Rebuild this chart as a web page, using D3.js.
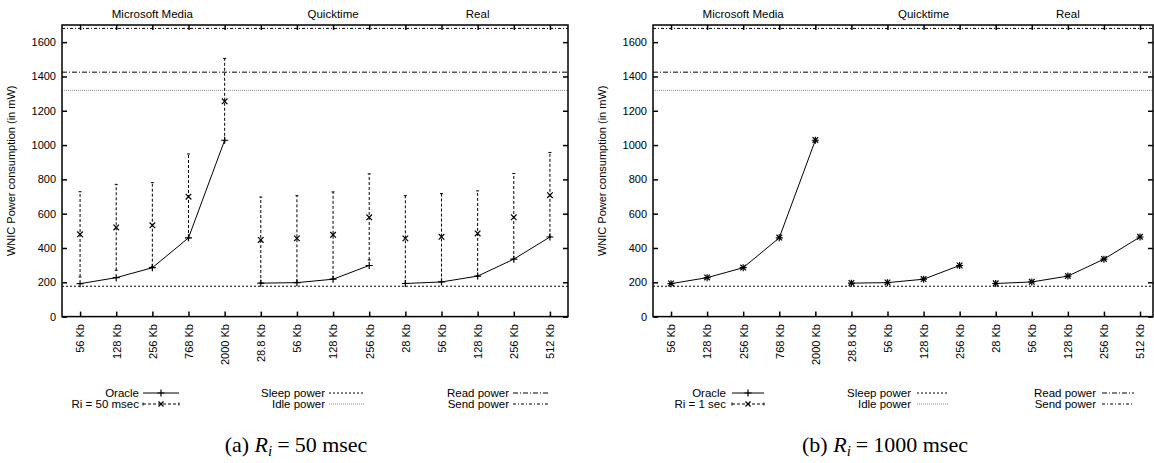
<!DOCTYPE html>
<html>
<head>
<meta charset="utf-8">
<script src="https://cdn.jsdelivr.net/npm/d3@7"></script>
<style>
  body { margin: 0; background: #fff; }
  svg { display: block; }
  text { font-family: "Liberation Sans", Arial, sans-serif; fill: #000; }
</style>
</head>
<body>
<svg width="1154" height="463"></svg>
<script>
// categories on the x axis (stream bit rates), three player groups
let categories = ["56 Kb", "128 Kb", "256 Kb", "768 Kb", "2000 Kb",
  "28.8 Kb", "56 Kb", "128 Kb", "256 Kb",
  "28 Kb", "56 Kb", "128 Kb", "256 Kb", "512 Kb"];
let groupOf = [0, 0, 0, 0, 0, 1, 1, 1, 1, 2, 2, 2, 2, 2];
let groupNames = ["Microsoft Media", "Quicktime", "Real"];
let groupLabelAt = [2, 7, 11];
let yTicks = [0, 200, 400, 600, 800, 1000, 1200, 1400, 1600];

// oracle power (mW)
let oracle = [192, 227, 285, 459, 1028, 195, 198, 218, 298, 193, 202, 236, 335, 464];

// Ri = 50 msec : mean, low and high of error bar
let mean50 = [480, 520, 532, 699, 1255, 447, 456, 477, 579, 456, 465, 485, 579, 708];
let low50 = [231, 270, 291, 458, 1025, 196, 200, 220, 330, 194, 204, 237, 336, 465];
let high50 = [728, 771, 781, 948, 1505, 697, 705, 727, 832, 705, 717, 733, 834, 957];

// Ri = 1 sec
let mean1s = [193, 228, 286, 461, 1030, 196, 199, 219, 298, 194, 203, 237, 336, 465];
let low1s = [190, 225, 283, 457, 1025, 194, 197, 216, 295, 192, 200, 234, 332, 461];
let high1s = [196, 231, 289, 465, 1034, 198, 201, 222, 301, 196, 206, 240, 339, 468];

// reference power levels (mW)
let sleepPower = 177;
let idlePower = 1319;
let readPower = 1425;
let sendPower = 1680;

let lineStyles = {
  sleep: { dash: "2,2", color: "#000" },
  idle: { dash: "1,1", color: "#8a8a8a" },
  read: { dash: "5,2,1,2", color: "#000" },
  send: { dash: "3,2,1,2", color: "#000" }
};

let svg = d3.select("svg");

let drawPlus = function(g, cx, cy, r) {
  g.append("path")
    .attr("d", `M${cx - r},${cy}H${cx + r}M${cx},${cy - r}V${cy + r}`)
    .attr("stroke", "#000").attr("stroke-width", 1.2).attr("fill", "none");
};
let drawCross = function(g, cx, cy, r) {
  g.append("path")
    .attr("d", `M${cx - r},${cy - r}L${cx + r},${cy + r}M${cx - r},${cy + r}L${cx + r},${cy - r}`)
    .attr("stroke", "#000").attr("stroke-width", 1.2).attr("fill", "none");
};

let drawChart = function(opt) {
  let g = svg.append("g");
  let x = d3.scaleLinear().domain(opt.xDomain).range([opt.left, opt.right]);
  let y = d3.scaleLinear().domain([0, 1700]).range([316.6, 25]);
  let idx = d3.range(categories.length);

  // reference power lines
  [["send", sendPower], ["read", readPower], ["idle", idlePower], ["sleep", sleepPower]].forEach(function(p) {
    g.append("line")
      .attr("x1", opt.left).attr("x2", opt.right)
      .attr("y1", y(p[1])).attr("y2", y(p[1]))
      .attr("stroke", lineStyles[p[0]].color)
      .attr("stroke-width", 1)
      .attr("stroke-dasharray", lineStyles[p[0]].dash);
  });

  // error bars for the Ri series
  let bars = g.append("g");
  idx.forEach(function(i) {
    let cx = x(i);
    bars.append("line")
      .attr("x1", cx).attr("x2", cx)
      .attr("y1", y(opt.low[i])).attr("y2", y(opt.high[i]))
      .attr("stroke", "#000").attr("stroke-width", 1)
      .attr("stroke-dasharray", "3,2");
    [opt.low[i], opt.high[i]].forEach(function(v) {
      bars.append("line")
        .attr("x1", cx - 1.5).attr("x2", cx + 1.5)
        .attr("y1", y(v)).attr("y2", y(v))
        .attr("stroke", "#000").attr("stroke-width", 1);
    });
    drawCross(bars, cx, y(opt.mean[i]), 2.8);
  });

  // oracle line, broken between groups
  let line = d3.line()
    .x(function(d) { return x(d); })
    .y(function(d) { return y(oracle[d]); });
  d3.range(groupNames.length).forEach(function(k) {
    let pts = idx.filter(function(i) { return groupOf[i] == k; });
    g.append("path")
      .attr("d", line(pts))
      .attr("fill", "none").attr("stroke", "#000").attr("stroke-width", 1);
  });
  idx.forEach(function(i) { drawPlus(g, x(i), y(oracle[i]), 3.5); });

  // axes
  let left = g.append("g").attr("transform", `translate(${opt.left},0)`)
    .call(d3.axisLeft(y).tickValues(yTicks).tickSize(-5).tickSizeOuter(0).tickPadding(6)
      .tickFormat(d3.format("d")));
  let right = g.append("g").attr("transform", `translate(${opt.right},0)`)
    .call(d3.axisRight(y).tickValues(yTicks).tickSize(-5).tickSizeOuter(0).tickFormat(""));
  let bottom = g.append("g").attr("transform", `translate(0,${y(0)})`)
    .call(d3.axisBottom(x).tickValues(idx).tickSize(-5).tickSizeOuter(0)
      .tickFormat(function(d) { return categories[d]; }));
  let top = g.append("g").attr("transform", `translate(0,${y(1700)})`)
    .call(d3.axisTop(x).tickValues(idx).tickSize(-5).tickSizeOuter(0).tickFormat(""));
  [left, right, bottom, top].forEach(function(a) {
    a.select(".domain").remove();
    a.selectAll(".tick line").attr("stroke", "#000").attr("stroke-width", 1.5);
    a.selectAll("text").attr("font-size", 11).attr("font-family", "Liberation Sans, Arial, sans-serif");
  });
  bottom.selectAll(".tick text")
    .attr("transform", "rotate(-90)")
    .attr("text-anchor", "end")
    .attr("x", -7.5).attr("y", 0).attr("dy", "0.35em");

  // plot border
  g.append("rect")
    .attr("x", opt.left).attr("y", y(1700))
    .attr("width", opt.right - opt.left).attr("height", y(0) - y(1700))
    .attr("fill", "none").attr("stroke", "#000").attr("stroke-width", 1.5);

  // group names on top
  groupNames.forEach(function(name, k) {
    g.append("text")
      .attr("x", x(groupLabelAt[k])).attr("y", 18)
      .attr("text-anchor", "middle").attr("font-size", 11.5)
      .text(name);
  });

  // y label
  g.append("text")
    .attr("transform", `translate(${opt.left - 47},${(y(0) + y(1700)) / 2}) rotate(-90)`)
    .attr("text-anchor", "middle").attr("font-size", 11)
    .text("WNIC Power consumption (in mW)");

  // legend
  let rows = [393, 404];
  let cols = opt.legendCols;
  let sampleW = opt.sampleW;
  let legendItems = [
    [0, 0, "Oracle", "oracle"], [0, 1, opt.seriesName, "ri"],
    [1, 0, "Sleep power", "sleep"], [1, 1, "Idle power", "idle"],
    [2, 0, "Read power", "read"], [2, 1, "Send power", "send"]
  ];
  legendItems.forEach(function(it) {
    let tx = cols[it[0]], ty = rows[it[1]];
    g.append("text")
      .attr("x", tx).attr("y", ty).attr("dy", "0.35em")
      .attr("text-anchor", "end").attr("font-size", 11.5)
      .text(it[2]);
    let sx0 = tx + opt.sampleGap, sx1 = sx0 + sampleW;
    if (it[3] == "oracle") {
      g.append("line").attr("x1", sx0).attr("x2", sx1).attr("y1", ty).attr("y2", ty)
        .attr("stroke", "#000").attr("stroke-width", 1);
      drawPlus(g, (sx0 + sx1) / 2, ty, 3.5);
    } else if (it[3] == "ri") {
      g.append("line").attr("x1", sx0).attr("x2", sx1).attr("y1", ty).attr("y2", ty)
        .attr("stroke", "#000").attr("stroke-width", 1).attr("stroke-dasharray", "3,2");
      [sx0, sx1].forEach(function(ex) {
        g.append("line").attr("x1", ex).attr("x2", ex).attr("y1", ty - 1.5).attr("y2", ty + 1.5)
          .attr("stroke", "#000").attr("stroke-width", 1);
      });
      drawCross(g, (sx0 + sx1) / 2, ty, 2.5);
    } else {
      g.append("line").attr("x1", sx0).attr("x2", sx1).attr("y1", ty).attr("y2", ty)
        .attr("stroke", lineStyles[it[3]].color).attr("stroke-width", 1)
        .attr("stroke-dasharray", lineStyles[it[3]].dash);
    }
  });

  // caption
  let cap = g.append("text")
    .attr("x", opt.captionX).attr("y", 452)
    .attr("text-anchor", "middle")
    .style("font-family", "Liberation Serif, Times New Roman, serif")
    .attr("font-size", 22);
  cap.append("tspan").text(opt.captionTag + " ");
  cap.append("tspan").attr("font-style", "italic").text("R");
  cap.append("tspan").attr("font-style", "italic").attr("font-size", 15).attr("dy", 4).text("i");
  cap.append("tspan").attr("dy", -4).attr("dx", 5).text("=");
  cap.append("tspan").attr("dx", 5).text(opt.captionValue);
};

drawChart({
  left: 62, right: 568, xDomain: [-0.5, 13.5],
  mean: mean50, low: low50, high: high50,
  seriesName: "Ri = 50 msec",
  legendCols: [139, 325, 509], sampleGap: 4, sampleW: 36,
  captionX: 296, captionTag: "(a)", captionValue: "50 msec"
});

drawChart({
  left: 653, right: 1153, xDomain: [-0.5, 13.36],
  mean: mean1s, low: low1s, high: high1s,
  seriesName: "Ri = 1 sec",
  legendCols: [726, 911, 1096], sampleGap: 6, sampleW: 32,
  captionX: 885, captionTag: "(b)", captionValue: "1000 msec"
});
</script>
</body>
</html>
